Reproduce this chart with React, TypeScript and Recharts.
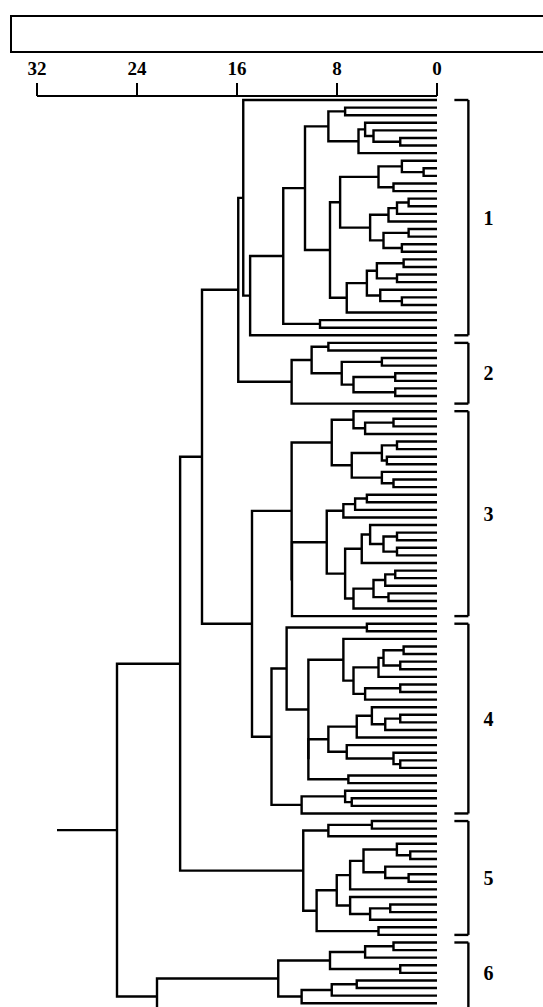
import React from 'react';
import { ScatterChart, Scatter, XAxis, YAxis, ReferenceLine } from 'recharts';

// a node is [height, upper child, lower child]; 0 is a leaf
type Node = 0 | [number, Node, Node];

// ---- cluster 1 ----
const c1GroupA: Node = [8.69, [7.35, 0, 0], [6.28, [5.75, 0, [5.08, 0, [2.94, 0, 0]]], 0]];
const c1GroupB: Node = [7.75,
  [4.68, [2.81, 0, [1.07, 0, 0]], [3.48, 0, 0]],
  [5.35, [3.88, [3.2, [2.27, 0, 0], 0], 0], [4.28, [2.27, 0, 0], [2.81, 0, 0]]]];
const c1GroupC: Node = [7.22, [5.61, [4.81, [2.67, 0, 0], [3.2, 0, 0]], [4.54, 0, [2.81, 0, 0]]], 0];
const cluster1: Node = [15.5, 0, [14.95, [12.3, [10.56, c1GroupA, [8.56, c1GroupB, c1GroupC]], [9.36, 0, 0]], 0]];

// ---- cluster 2 ----
const cluster2: Node = [11.63, [10.03, [8.69, 0, 0], [7.62, [4.41, 0, 0], [6.68, [3.34, 0, 0], [3.34, 0, 0]]]], 0];

// ---- cluster 3 ----
const c3Upper: Node = [8.42,
  [6.68, 0, [5.75, [3.48, 0, 0], 0]],
  [6.82, [4.41, [3.2, 0, 0], [4.01, 0, 0]], [4.41, 0, [3.48, 0, 0]]]];
const c3Lower: Node = [8.82,
  [7.49, [6.55, [5.61, 0, 0], 0], 0],
  [7.35, [6.02, [5.35, 0, [4.28, [3.2, 0, 0], [3.2, 0, 0]]], 0], [6.68, [5.08, [4.14, [3.34, 0, 0], 0], [3.88, 0, 0]], 0]]];
const cluster3: Node = [11.63, c3Upper, [11.6, c3Lower, 0]];

// ---- cluster 4 ----
const c4a: Node = [7.49, 0, [6.68, [4.68, [4.28, [2.67, 0, 0], [2.94, 0, 0]], 0], [5.75, [2.94, 0, 0], 0]]];
const c4b: Node = [8.69, [6.42, [5.21, 0, [4.14, [2.94, 0, 0], 0]], 0], [7.22, 0, [3.48, 0, [2.94, 0, 0]]]];
const cluster4: Node = [13.24,
  [12.03, [5.61, 0, 0], [10.29, c4a, [10.29, c4b, [7.09, 0, 0]]]],
  [10.83, [7.35, 0, [6.82, 0, 0]], 0]];

// ---- cluster 5 ----
const c5Mid: Node = [8.02,
  [6.95, [5.88, [3.21, 0, [2.14, 0, 0]], [4.14, 0, [2.27, 0, 0]]], 0],
  [6.95, 0, [5.35, [3.74, 0, 0], 0]]];
const cluster5: Node = [10.7, [8.69, [5.21, 0, 0], 0], [9.63, c5Mid, [4.68, 0, 0]]];

// ---- cluster 6 (runs off the bottom of the page) ----
const cluster6: Node = [22.4,
  [12.7, [8.56, [5.75, [3.48, 0, 0], 0], [2.94, 0, 0]], [10.83, [8.42, [6.42, 0, 0], 0], 0]],
  [12.0, 0, 0]];

// ---- upper levels ----
const rootTree: Node = [25.6,
  [20.55, [18.8, [15.9, cluster1, cluster2], [14.8, cluster3, cluster4]], cluster5],
  cluster6];
const rootStem = 30.4;

const clusterNodes: Node[] = [cluster1, cluster2, cluster3, cluster4, cluster5, cluster6];
const clusterLabels = ['1', '2', '3', '4', '5', '6'];
const axisTicks = [32, 24, 16, 8, 0];
const visibleLeaves = 120; // leaves below this are off the page

// ---- layout ----
type Pt = { x: number; y: number };

function countLeaves(n: Node): number {
  return n === 0 ? 1 : countLeaves(n[1]) + countLeaves(n[2]);
}

function buildSegments(root: Node) {
  const segs: Pt[][] = [];
  let leaf = 0;
  const place = (n: Node): { h: number; y: number } => {
    if (n === 0) return { h: 0, y: leaf++ };
    const [h, a, b] = n;
    const pa = place(a);
    const pb = place(b);
    segs.push([{ x: pa.h, y: pa.y }, { x: h, y: pa.y }, { x: h, y: pb.y }, { x: pb.h, y: pb.y }]);
    return { h, y: (pa.y + pb.y) / 2 };
  };
  const top = place(root);
  segs.push([{ x: top.h, y: top.y }, { x: rootStem, y: top.y }]);
  return segs;
}

const segments = buildSegments(rootTree);

let start = 0;
const brackets = clusterNodes.map((n, i) => {
  const c = countLeaves(n);
  const b = { label: clusterLabels[i], from: start, to: start + c - 1 };
  start += c;
  return b;
});

const LEAF_PX = 7.59;
const yMin = -4 / LEAF_PX;
const yMax = yMin + 964 / LEAF_PX;
const BR_IN = -1.39;
const BR_OUT = -2.51;
const LW = 2.4;

const noDot = () => <g />;
const ink = '#000';
const serif = '"Liberation Serif", "DejaVu Serif", serif';

export default function App() {
  return (
    <div style={{ position: 'absolute', left: 0, top: 0, width: 543, height: 1007, overflow: 'hidden', background: '#fff' }}>
      {/* empty frame above the scale */}
      <div style={{ position: 'absolute', left: 10, top: 15, width: 580, height: 38, border: '2px solid #000', boxSizing: 'border-box' }} />

      <ScatterChart width={543} height={1060} margin={{ top: 46, right: 106, left: 37, bottom: 0 }}>
        <XAxis
          type="number"
          dataKey="x"
          orientation="top"
          height={50}
          domain={[0, 32]}
          reversed
          allowDataOverflow
          ticks={axisTicks}
          interval={0}
          tickSize={13}
          tickMargin={8}
          axisLine={{ stroke: ink, strokeWidth: 2 }}
          tickLine={{ stroke: ink, strokeWidth: 2 }}
          tick={{ fill: ink, fontSize: 19, fontWeight: 'bold', fontFamily: serif }}
        />
        <YAxis type="number" dataKey="y" domain={[yMin, yMax]} reversed hide allowDataOverflow />

        {segments.map((seg, i) => (
          <Scatter
            key={`seg-${i}`}
            data={seg}
            fill={ink}
            line={{ stroke: ink, strokeWidth: LW }}
            lineType="joint"
            shape={noDot}
            isAnimationActive={false}
          />
        ))}

        {/* cluster brackets */}
        {brackets.map((b) => [
          <ReferenceLine
            key={`bt-${b.label}`}
            ifOverflow="visible"
            segment={[{ x: BR_IN, y: b.from }, { x: BR_OUT, y: b.from }]}
            stroke={ink}
            strokeWidth={LW}
          />,
          <ReferenceLine
            key={`bv-${b.label}`}
            ifOverflow="visible"
            segment={[{ x: BR_OUT, y: b.from }, { x: BR_OUT, y: b.to }]}
            stroke={ink}
            strokeWidth={LW}
          />,
          <ReferenceLine
            key={`bb-${b.label}`}
            ifOverflow="visible"
            segment={[{ x: BR_IN, y: b.to }, { x: BR_OUT, y: b.to }]}
            stroke={ink}
            strokeWidth={LW}
          />,
          <ReferenceLine
            key={`bl-${b.label}`}
            ifOverflow="visible"
            segment={[{ x: BR_OUT, y: b.from }, { x: BR_OUT, y: Math.min(b.to, visibleLeaves - 1) }]}
            stroke="none"
            label={{ value: b.label, position: 'right', offset: 15, fill: ink, fontSize: 20, fontWeight: 'bold', fontFamily: serif }}
          />,
        ])}
      </ScatterChart>
    </div>
  );
}
